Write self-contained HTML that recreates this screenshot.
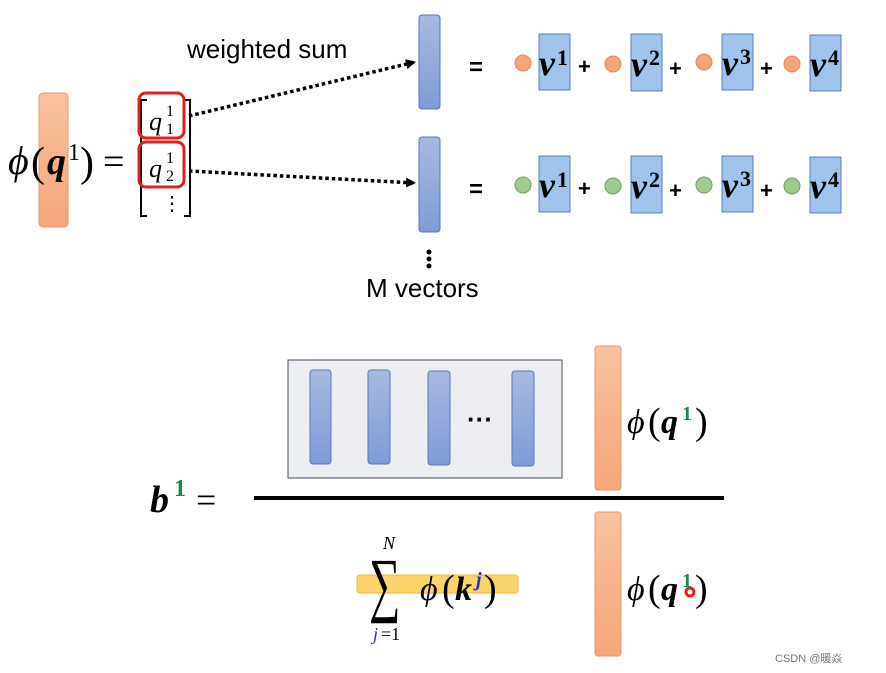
<!DOCTYPE html>
<html><head><meta charset="utf-8"><style>
html,body{margin:0;padding:0;background:#fff;}
svg{display:block;}
.m{font-family:"Liberation Serif","DejaVu Serif",serif;}
.i{font-style:italic;}
.s{font-family:"Liberation Sans","DejaVu Sans",sans-serif;}
</style></head><body>
<svg width="886" height="673" viewBox="0 0 886 673" xmlns="http://www.w3.org/2000/svg">
<defs>
<linearGradient id="bl" x1="0" y1="0" x2="0" y2="1"><stop offset="0" stop-color="#a7b9e0"/><stop offset="1" stop-color="#7f9bd8"/></linearGradient>
<linearGradient id="or" x1="0" y1="0" x2="0" y2="1"><stop offset="0" stop-color="#f8c2a0"/><stop offset="1" stop-color="#f6a579"/></linearGradient>
<marker id="ar" markerWidth="10" markerHeight="10" refX="9" refY="5" orient="auto" markerUnits="userSpaceOnUse"><path d="M0,0 L10,5 L0,10 z" fill="#000"/></marker>
</defs>
<!-- top left -->
<rect x="39" y="93" width="29" height="134" rx="4" fill="url(#or)" stroke="#e59a6a"/>
<text x="8" y="174" class="m i" font-size="40">ϕ</text>
<text x="31" y="176" class="m" font-size="42">(</text>
<text x="47" y="174" class="m i" font-size="38" font-weight="bold">q</text>
<text x="68" y="160" class="m" font-size="24">1</text>
<text x="80" y="176" class="m" font-size="42">)</text>
<text x="103" y="174" class="m" font-size="38">=</text>
<path d="M147,100 L141,100 L141,216 L147,216 M184,100 L190,100 L190,216 L184,216" fill="none" stroke="#000" stroke-width="2"/>
<text x="149" y="130" class="m i" font-size="26">q</text>
<text x="166" y="116" class="m" font-size="16">1</text>
<text x="166" y="134" class="m" font-size="16">1</text>
<text x="149" y="177" class="m i" font-size="26">q</text>
<text x="166" y="163" class="m" font-size="16">1</text>
<text x="166" y="181" class="m" font-size="16">2</text>
<text x="162" y="210" class="m" font-size="20">⋮</text>
<rect x="139" y="93" width="45" height="45" rx="7" fill="none" stroke="#e02020" stroke-width="3"/>
<rect x="139" y="142" width="45" height="45" rx="7" fill="none" stroke="#e02020" stroke-width="3"/>
<text x="187" y="58" class="s" font-size="26">weighted sum</text>
<line x1="189" y1="116" x2="415" y2="62" stroke="#000" stroke-width="3.5" stroke-dasharray="3.5,3" marker-end="url(#ar)"/>
<line x1="189" y1="171" x2="415" y2="183" stroke="#000" stroke-width="3.5" stroke-dasharray="3.5,3" marker-end="url(#ar)"/>
<rect x="419" y="15" width="21" height="94" rx="3" fill="url(#bl)" stroke="#5a78b8"/>
<rect x="419" y="137" width="21" height="95" rx="3" fill="url(#bl)" stroke="#5a78b8"/>
<circle cx="429" cy="252" r="2.5"/><circle cx="429" cy="259" r="2.5"/><circle cx="429" cy="266" r="2.5"/>
<text x="366" y="297" class="s" font-size="26">M vectors</text>
<!-- rows -->
<g id="r1">
<text x="469" y="75" class="s" font-size="24" font-weight="bold">=</text>
<rect x="539" y="34" width="31" height="56" fill="#9fc3ea" stroke="#5a82b8"/>
<rect x="631" y="34" width="31" height="57" fill="#9fc3ea" stroke="#5a82b8"/>
<rect x="722" y="34" width="31" height="56" fill="#9fc3ea" stroke="#5a82b8"/>
<rect x="810" y="35" width="31" height="56" fill="#9fc3ea" stroke="#5a82b8"/>
<text x="539" y="75" class="m i" font-size="36" font-weight="bold">v</text><text x="557" y="65" class="m" font-size="22" font-weight="bold">1</text>
<text x="631" y="76" class="m i" font-size="36" font-weight="bold">v</text><text x="649" y="65" class="m" font-size="22" font-weight="bold">2</text>
<text x="722" y="75" class="m i" font-size="36" font-weight="bold">v</text><text x="740" y="64" class="m" font-size="22" font-weight="bold">3</text>
<text x="810" y="76" class="m i" font-size="36" font-weight="bold">v</text><text x="828" y="65" class="m" font-size="22" font-weight="bold">4</text>
<text x="578" y="74" class="s" font-size="22" font-weight="bold">+</text>
<text x="669" y="76" class="s" font-size="22" font-weight="bold">+</text>
<text x="760" y="76" class="s" font-size="22" font-weight="bold">+</text>
</g>
<circle cx="523" cy="63" r="8" fill="#f6a57a" stroke="#e08a5a"/><circle cx="613" cy="64" r="8" fill="#f6a57a" stroke="#e08a5a"/><circle cx="704" cy="62" r="8" fill="#f6a57a" stroke="#e08a5a"/><circle cx="792" cy="64" r="8" fill="#f6a57a" stroke="#e08a5a"/>
<use href="#r1" transform="translate(0,122)"/>
<circle cx="523" cy="185" r="8" fill="#9fcc8e" stroke="#6fa060"/><circle cx="613" cy="186" r="8" fill="#9fcc8e" stroke="#6fa060"/><circle cx="704" cy="185" r="8" fill="#9fcc8e" stroke="#6fa060"/><circle cx="792" cy="186" r="8" fill="#9fcc8e" stroke="#6fa060"/>
<!-- bottom -->
<rect x="288" y="360" width="274" height="118" fill="#edeef2" stroke="#444a5a"/>
<rect x="310" y="370" width="21" height="94" rx="3" fill="url(#bl)" stroke="#5a78b8"/>
<rect x="368" y="370" width="22" height="94" rx="3" fill="url(#bl)" stroke="#5a78b8"/>
<rect x="428" y="371" width="22" height="94" rx="3" fill="url(#bl)" stroke="#5a78b8"/>
<rect x="512" y="371" width="22" height="95" rx="3" fill="url(#bl)" stroke="#5a78b8"/>
<text x="467" y="428" class="s" font-size="26" font-weight="bold">···</text>
<rect x="595" y="346" width="26" height="144" rx="3" fill="url(#or)" stroke="#e59a6a"/>
<rect x="595" y="512" width="26" height="144" rx="3" fill="url(#or)" stroke="#e59a6a"/>
<line x1="254" y1="498" x2="724" y2="498" stroke="#000" stroke-width="4"/>
<text x="150" y="512" class="m i" font-size="38" font-weight="bold">b</text>
<text x="174" y="496" class="m" font-size="24" font-weight="bold" fill="#1a8a4a">1</text>
<text x="196" y="512" class="m" font-size="36">=</text>
<g id="pq">
<text x="627" y="433" class="m i" font-size="34">ϕ</text>
<text x="648" y="434" class="m" font-size="38">(</text>
<text x="661" y="433" class="m i" font-size="34" font-weight="bold">q</text>
<text x="682" y="420" class="m" font-size="20" font-weight="bold" fill="#1a8a4a">1</text>
<text x="695" y="434" class="m" font-size="38">)</text>
</g>
<use href="#pq" transform="translate(0,167)"/>
<circle cx="690" cy="592" r="4" fill="none" stroke="#e02020" stroke-width="3"/>
<rect x="357" y="575" width="161" height="18" rx="3" fill="#fbd56a" stroke="#e8b840"/>
<text class="m" font-size="40" transform="translate(369,608) scale(1.1,1.8)">∑</text>
<text x="383" y="549" class="m i" font-size="18">N</text>
<text x="373" y="640" class="m i" font-size="18" fill="#2030c0">j</text>
<text x="381" y="640" class="m" font-size="18">=1</text>
<text x="420" y="600" class="m i" font-size="34">ϕ</text>
<text x="442" y="601" class="m" font-size="38">(</text>
<text x="455" y="600" class="m i" font-size="34" font-weight="bold">k</text>
<text x="476" y="586" class="m i" font-size="20" font-weight="bold" fill="#2030c0">j</text>
<text x="484" y="601" class="m" font-size="38">)</text>
<text x="775" y="662" class="s" font-size="11" fill="#777">CSDN @暖焱</text>
</svg>
</body></html>
